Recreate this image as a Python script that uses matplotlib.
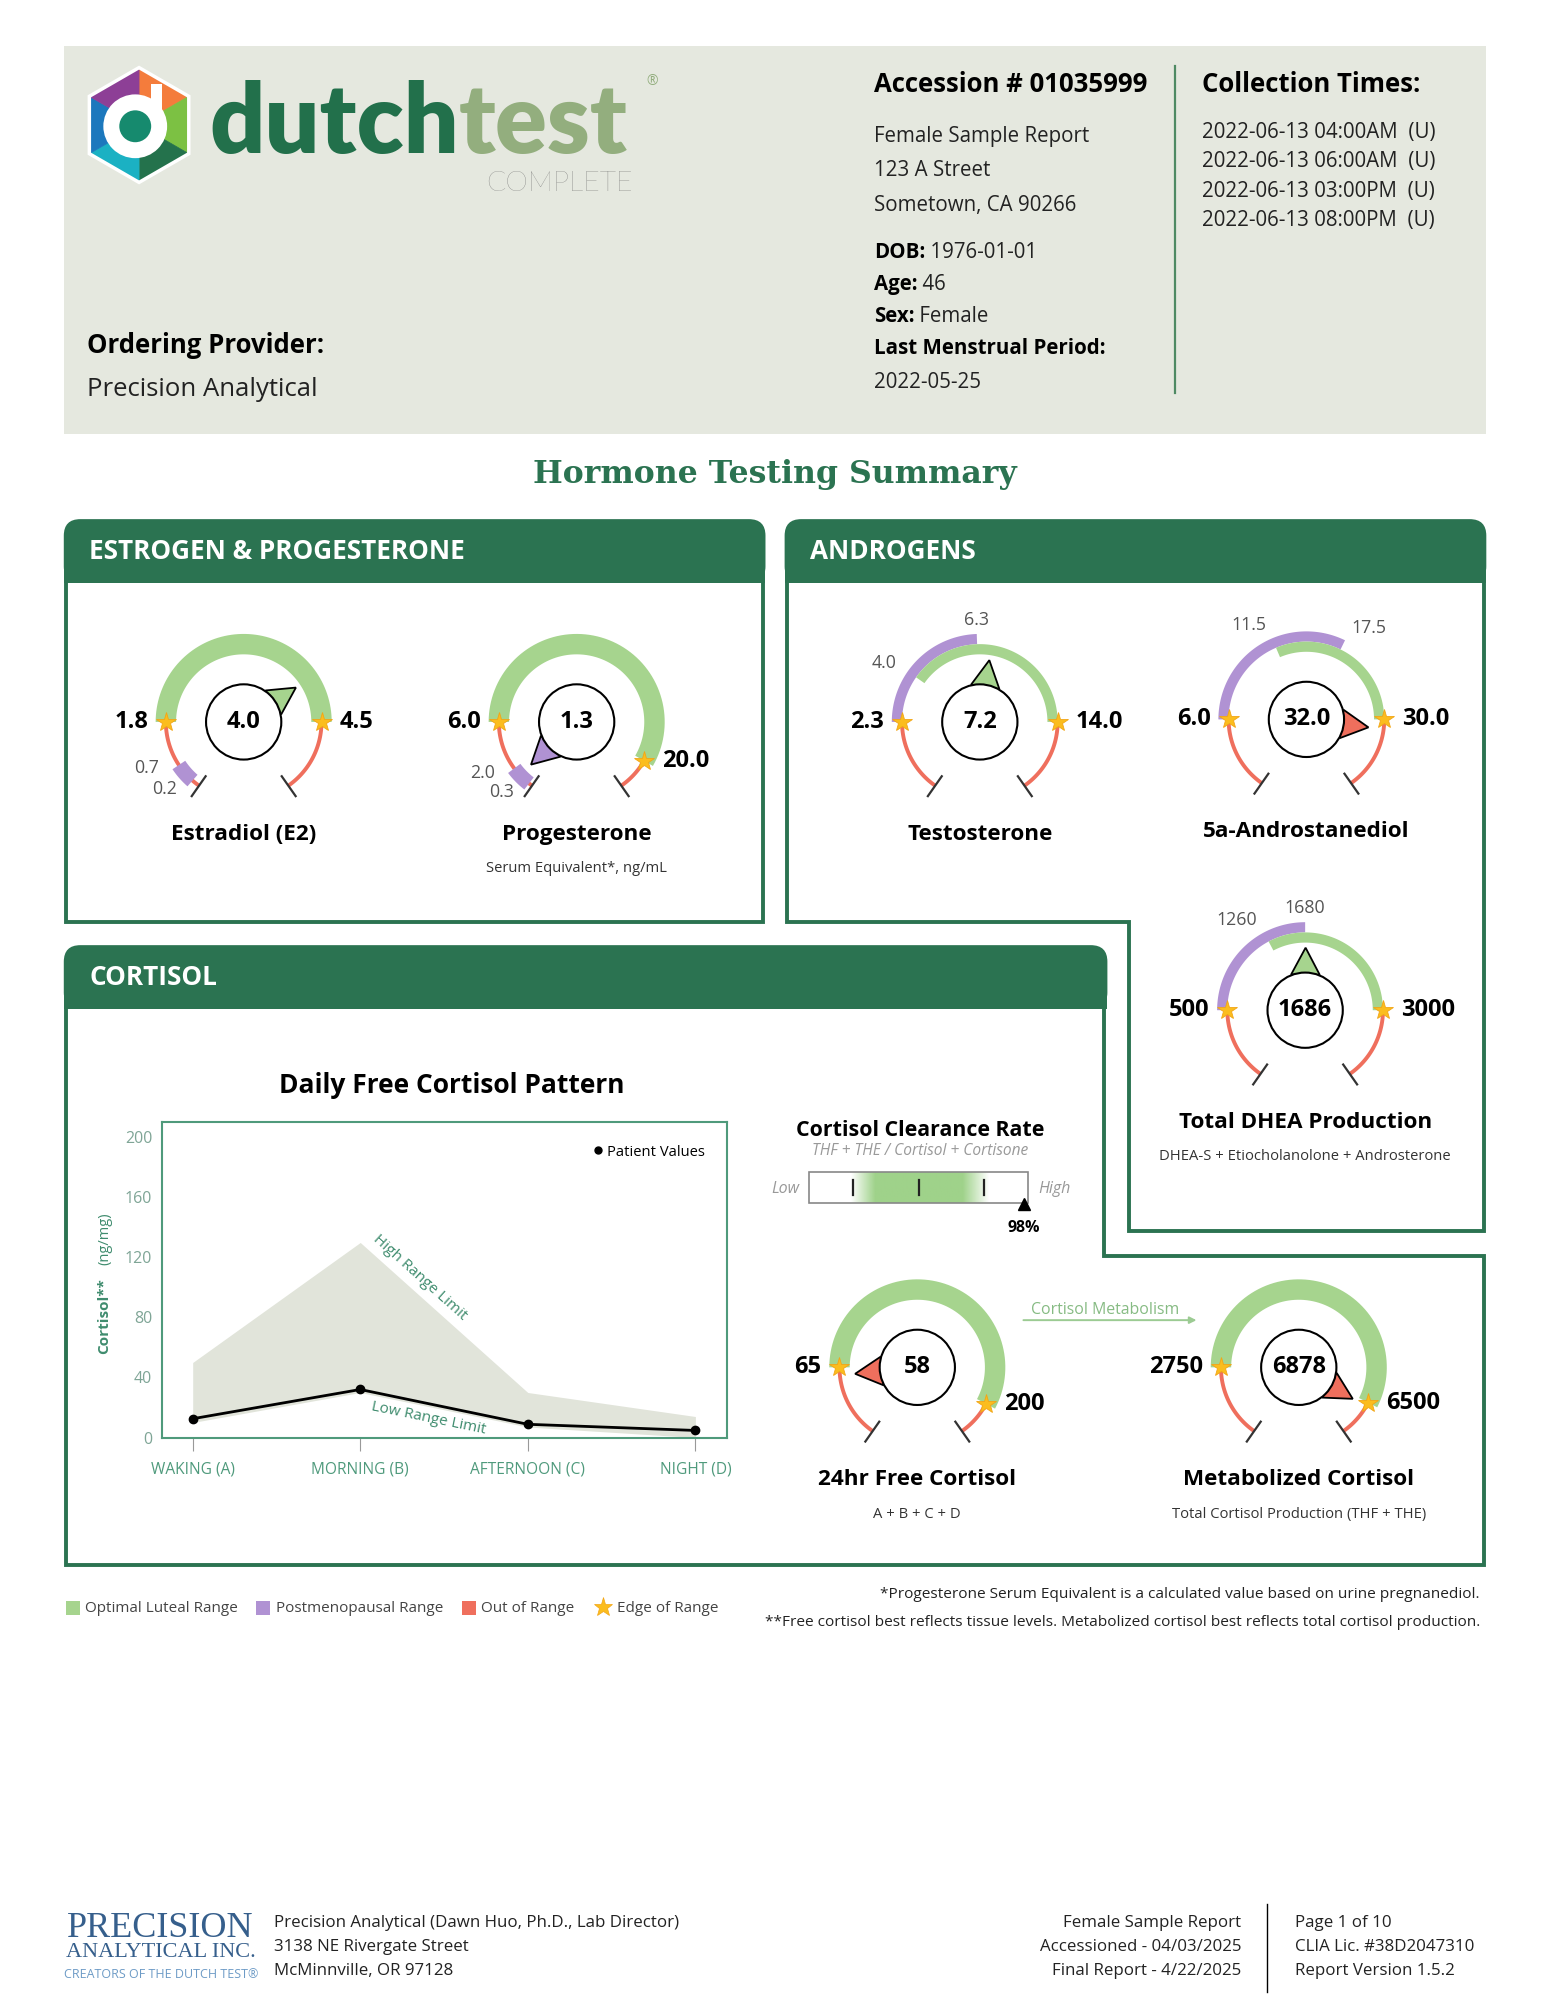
import numpy as np
import matplotlib
matplotlib.use("Agg")
import matplotlib.pyplot as plt
from matplotlib.patches import Polygon, Circle, Rectangle, FancyBboxPatch
from matplotlib.lines import Line2D

plt.rcParams['font.family'] = ['Open Sans', 'DejaVu Sans']

# ---------------- data ----------------
ACCESSION = "01035999"
ADDRESS_LINES = ["Female Sample Report", "123 A Street", "Sometown, CA 90266"]
PATIENT_FIELDS = [("DOB:", "1976-01-01"), ("Age:", "46"), ("Sex:", "Female")]
LMP_DATE = "2022-05-25"
COLLECTION_TIMES = ["2022-06-13 04:00AM  (U)", "2022-06-13 06:00AM  (U)",
                    "2022-06-13 03:00PM  (U)", "2022-06-13 08:00PM  (U)"]
PROVIDER = "Precision Analytical"

GAUGE_NAMES = ["Estradiol (E2)", "Progesterone", "Testosterone", "5a-Androstanediol",
               "Total DHEA Production", "24hr Free Cortisol", "Metabolized Cortisol"]
GAUGE_SUBS = ["", "Serum Equivalent*, ng/mL", "", "",
              "DHEA-S + Etiocholanolone + Androsterone", "A + B + C + D",
              "Total Cortisol Production (THF + THE)"]
GAUGE_RESULTS = [4.0, 1.3, 7.2, 32.0, 1686, 58, 6878]
LUTEAL_LOW = [1.8, 6.0, 4.0, 11.5, 1260, 65, 2750]
LUTEAL_HIGH = [4.5, 20.0, 14.0, 30.0, 3000, 200, 6500]
POSTMENO_LOW = [0.2, 0.3, 2.3, 6.0, 500, None, None]
POSTMENO_HIGH = [0.7, 2.0, 6.3, 17.5, 1680, None, None]
GAUGE_DECIMALS = [1, 1, 1, 1, 0, 0, 0]

CORTISOL_TIMES = ["WAKING (A)", "MORNING (B)", "AFTERNOON (C)", "NIGHT (D)"]
CORTISOL_LOW = [10, 30, 7, 0]
CORTISOL_HIGH = [50, 130, 30, 14]
CORTISOL_PATIENT = [12.5, 32.0, 8.8, 4.7]
CORTISOL_YTICKS = [0, 40, 80, 120, 160, 200]

CLEARANCE_PCT = 98
CLEARANCE_TICKS = [20, 50, 80]

LEGEND_LABELS = ["Optimal Luteal Range", "Postmenopausal Range", "Out of Range", "Edge of Range"]

# ---------------- style ----------------
GREEN_DARK = '#2b7351'
BAND_GREEN = '#a6d48e'
BAND_PURPLE = '#b092d3'
RED = '#ef6f5d'
STAR = '#fbbd1e'
HEADER_BG = '#e5e8df'
TEAL = '#3f8c6e'

# gauge centre (page px of the 1211 wide layout) and angle stops of the main range
GAUGE_CENTERS = [(191, 566), (452, 566), (768, 566), (1024, 564), (1023, 792), (719, 1072), (1018, 1072)]
GAUGE_STOPS = [[180, 0], [180, -30], [180, 145, 92, 0], [180, 113, 64, 0],
               [180, 118, 90, 0], [180, -28], [180, -27]]
R_IN, R_OUT, R_MID = 53, 69, 61
R_CIRC = 29.5

W, H = 1211, 1568
fig = plt.figure(figsize=(15.45, 20), dpi=100)
ax = fig.add_axes([0, 0, 1, 1])
ax.set_xlim(0, W)
ax.set_ylim(H, 0)
ax.axis('off')


def pt(cx, cy, r, a):
    a = np.radians(a)
    return cx + r * np.cos(a), cy - r * np.sin(a)


def band(cx, cy, r0, r1, a0, a1, color, z=3):
    t = np.linspace(a0, a1, 80)
    xo, yo = pt(cx, cy, r1, t)
    xi, yi = pt(cx, cy, r0, t[::-1])
    ax.add_patch(Polygon(np.column_stack([np.r_[xo, xi], np.r_[yo, yi]]),
                         closed=True, fc=color, ec='none', zorder=z))


def arc(cx, cy, r, a0, a1, color, lw, z=2):
    t = np.linspace(a0, a1, 80)
    x, y = pt(cx, cy, r, t)
    ax.plot(x, y, color=color, lw=lw, solid_capstyle='butt', zorder=z)


def fmt(v, d):
    return f"{v:.{d}f}"


# ---------------- header block ----------------
ax.add_patch(Rectangle((50, 36), 1115, 304, fc=HEADER_BG, ec='none', zorder=0))

# logo hexagon
hx, hy, hr = 109, 98, 45
hex_cols = ['#f47c3c', '#7cc143', '#24724c', '#1bb1c3', '#1c78bd', '#8d3f96']
for i, c in enumerate(hex_cols):
    a0, a1 = 90 - 60 * i, 30 - 60 * i
    p0, p1 = pt(hx, hy, hr, a0), pt(hx, hy, hr, a1)
    ax.add_patch(Polygon([(hx, hy), p0, p1], closed=True, fc=c, ec=c, lw=0.5, zorder=2))
hv = [pt(hx, hy, hr, 90 - 60 * i) for i in range(6)]
ax.add_patch(Polygon(hv, closed=True, fc='none', ec='white', lw=2.5, zorder=3))
ax.add_patch(Circle((106, 99), 25, fc='white', ec='none', zorder=3))
ax.add_patch(Circle((106, 99), 12.5, fc='#168a6e', ec='none', zorder=4))
ax.add_patch(Rectangle((118, 66), 9, 34, fc='white', ec='none', zorder=3))

dutch = ax.text(164, 120, "dutch", fontsize=69.5, fontweight='heavy', family='Lato',
                color='#22704b', va='baseline', ha='left', zorder=3)
ax.annotate("test", xy=(1, 0), xycoords=dutch, xytext=(0, 0), textcoords='offset points',
            fontsize=69.5, fontweight='heavy', family='Lato', color='#93ae7e',
            va='bottom', ha='left', zorder=3)
ax.text(496, 150, "COMPLETE", fontsize=20.5, fontweight='light', family='Lato',
        color='#6f6f6f', ha='right', va='baseline')
ax.text(511, 64, "®", fontsize=10, color='#93ae7e', ha='center', va='center')

ax.text(68, 271, "Ordering Provider:", fontsize=18.5, fontweight='bold', va='center')
ax.text(68, 305, PROVIDER, fontsize=18.5, va='center', color='#222222')

ax.text(685, 66, f"Accession # {ACCESSION}", fontsize=18.5, fontweight='bold', va='center')
for i, line in enumerate(ADDRESS_LINES):
    ax.text(685, 107 + 27 * i, line, fontsize=14.8, va='center', color='#222222')
for i, (lab, val) in enumerate(PATIENT_FIELDS):
    t = ax.text(685, 198 + 25 * i, lab, fontsize=14.8, fontweight='bold', va='center')
    ax.annotate(" " + val, xy=(1, 0.5), xycoords=t, va='center', ha='left',
                fontsize=14.8, color='#222222')
ax.text(685, 273, "Last Menstrual Period:", fontsize=14.8, fontweight='bold', va='center')
ax.text(685, 300, LMP_DATE, fontsize=14.8, va='center', color='#222222')

ax.plot([921, 921], [52, 308], color='#4e8a63', lw=1.6)
ax.text(942, 66, "Collection Times:", fontsize=18.5, fontweight='bold', va='center')
for i, line in enumerate(COLLECTION_TIMES):
    ax.text(942, 104 + 23 * i, line, fontsize=14.8, va='center', color='#222222')

ax.text(607, 372, "Hormone Testing Summary", fontsize=22.7, fontweight='bold',
        family='DejaVu Serif', color=GREEN_DARK, ha='center', va='center')


# ---------------- panels ----------------
def header(x0, y0, w, h, title):
    ax.add_patch(FancyBboxPatch((x0, y0), w, h, boxstyle="round,pad=0,rounding_size=13",
                                fc=GREEN_DARK, ec='none', zorder=1))
    ax.add_patch(Rectangle((x0, y0 + h / 2), w, h / 2, fc=GREEN_DARK, ec='none', zorder=1))
    ax.text(x0 + 20, y0 + h / 2, title, color='white', fontsize=18.8,
            fontweight='bold', va='center', ha='left', zorder=2)


header(50, 407, 550, 50, "ESTROGEN & PROGESTERONE")
header(615, 407, 550, 50, "ANDROGENS")
header(50, 741, 818, 50, "CORTISOL")

border_kw = dict(color=GREEN_DARK, lw=2.8, solid_joinstyle='miter', zorder=1)
ax.plot([52, 52, 598, 598], [457, 723, 723, 457], **border_kw)
ax.plot([617, 617, 885, 885, 1163, 1163], [457, 723, 723, 965, 965, 457], **border_kw)
ax.plot([52, 52, 1163, 1163, 865, 865], [791, 1227, 1227, 985, 985, 791], **border_kw)


# ---------------- gauges ----------------
def draw_gauge(i):
    cx, cy = GAUGE_CENTERS[i]
    ll, lh = LUTEAL_LOW[i], LUTEAL_HIGH[i]
    pl, ph = POSTMENO_LOW[i], POSTMENO_HIGH[i]
    dec = GAUGE_DECIMALS[i]
    overlap = pl is not None and ph >= ll
    if overlap:
        bounds = sorted({ll, lh, pl, ph})
    else:
        bounds = [ll, lh]
    stops = GAUGE_STOPS[i]
    xs = [0.0] + bounds + [bounds[-1] * 1.5]
    ys = [235] + stops + [-55]

    def f(v):
        return float(np.interp(v, xs, ys))

    lo_a, hi_a = stops[0], stops[-1]
    arc(cx, cy, R_MID, 235, lo_a, RED, 2.8)
    arc(cx, cy, R_MID, hi_a, -55, RED, 2.8)
    for a in (235, -55):
        x0, y0 = pt(cx, cy, R_MID - 9, a)
        x1, y1 = pt(cx, cy, R_MID + 10, a)
        ax.plot([x0, x1], [y0, y1], color='#333333', lw=1.6, zorder=4)

    if overlap:
        band(cx, cy, R_MID, R_OUT, f(pl), f(ph), BAND_PURPLE)
        band(cx, cy, R_IN, R_MID, f(ll), f(lh), BAND_GREEN)
        main = [bounds[0], bounds[-1]]
        minor = bounds[1:-1]
    else:
        band(cx, cy, R_IN, R_OUT, f(ll), f(lh), BAND_GREEN)
        if pl is not None:
            band(cx, cy, R_IN + 2, R_OUT - 2, f(pl), f(ph), BAND_PURPLE)
        main = [ll, lh]
        minor = [v for v in (ph, pl) if v is not None]

    for k, v in enumerate(main):
        sx, sy = pt(cx, cy, R_MID, f(v))
        ax.plot(sx, sy, marker='*', ms=15, color=STAR, mec='#f2a516', mew=0.6, zorder=6)
        if k == 0:
            ax.text(sx - 14, sy, fmt(v, dec), fontsize=17, fontweight='bold',
                    ha='right', va='center', zorder=6)
        else:
            ax.text(sx + 14, sy, fmt(v, dec), fontsize=17, fontweight='bold',
                    ha='left', va='center', zorder=6)
    for v in minor:
        a = f(v)
        tx, ty = pt(cx, cy, R_OUT + 11, a)
        if np.sin(np.radians(a)) < 0:
            ty -= 8
        c = np.cos(np.radians(a))
        ha = 'center' if abs(c) < 0.15 else ('right' if c < 0 else 'left')
        ax.text(tx, ty, fmt(v, dec), fontsize=12.8, color='#555555',
                ha=ha, va='center', zorder=6)

    res = GAUGE_RESULTS[i]
    if ll <= res <= lh:
        pc = BAND_GREEN
    elif pl is not None and pl <= res <= ph:
        pc = BAND_PURPLE
    else:
        pc = RED
    a = f(res)
    tip = pt(cx, cy, 49, a)
    b1 = pt(cx, cy, 30, a + 22)
    b2 = pt(cx, cy, 30, a - 22)
    ax.add_patch(Polygon([tip, b1, b2], closed=True, fc=pc, ec='black', lw=1.3, zorder=7))
    ax.add_patch(Circle((cx, cy), R_CIRC, fc='white', ec='black', lw=1.5, zorder=8))
    ax.text(cx, cy, fmt(res, dec), fontsize=17, fontweight='bold',
            ha='center', va='center', zorder=9)
    ax.text(cx, cy + 88, GAUGE_NAMES[i], fontsize=16.2, fontweight='bold',
            ha='center', va='center')
    if GAUGE_SUBS[i]:
        ax.text(cx, cy + 115, GAUGE_SUBS[i], fontsize=10.6, color='#333333',
                ha='center', va='center')


for i in range(len(GAUGE_NAMES)):
    draw_gauge(i)

# cortisol metabolism arrow
ax.annotate("", xy=(940, 1035), xytext=(800, 1035),
            arrowprops=dict(arrowstyle='-|>', color='#9ccb93', lw=1.4, mutation_scale=10))
ax.text(866, 1027, "Cortisol Metabolism", fontsize=11.4, color='#86bb83',
        ha='center', va='center')

# ---------------- cortisol clearance ----------------
ax.text(721, 886, "Cortisol Clearance Rate", fontsize=15.4, fontweight='bold',
        ha='center', va='center')
ax.text(721, 902, "THF + THE / Cortisol + Cortisone", fontsize=11.2, style='italic',
        color='#999999', ha='center', va='center')
bx0, bx1, by0, by1 = 634, 806, 919, 943
pct = np.linspace(0, 100, 300)
alpha = np.interp(pct, [0, 19, 30, 70, 82, 100], [0, 0, 1, 1, 0, 0])
grad = np.zeros((1, pct.size, 4))
grad[..., :3] = matplotlib.colors.to_rgb('#9fd28a')
grad[..., 3] = alpha
ax.imshow(grad, extent=(bx0, bx1, by1, by0), aspect='auto', zorder=2, interpolation='bilinear')
ax.add_patch(Rectangle((bx0, by0), bx1 - bx0, by1 - by0, fc='none', ec='#888888', lw=1.2, zorder=3))
for p in CLEARANCE_TICKS:
    xx = bx0 + (bx1 - bx0) * p / 100
    ax.plot([xx, xx], [by0 + 6, by1 - 6], color='#222222', lw=1.6, zorder=4)
ax.text(bx0 - 7, 932, "Low", fontsize=11.5, style='italic', color='#999999', ha='right', va='center')
ax.text(bx1 + 8, 932, "High", fontsize=11.5, style='italic', color='#999999', ha='left', va='center')
mx = bx0 + (bx1 - bx0) * CLEARANCE_PCT / 100
ax.plot(mx, by1 + 1, marker='^', ms=9, color='black', zorder=5)
ax.text(mx, 963, f"{CLEARANCE_PCT}%", fontsize=11.5, fontweight='bold', ha='center', va='center')

# ---------------- daily free cortisol chart ----------------
ax.text(354, 851, "Daily Free Cortisol Pattern", fontsize=19, fontweight='bold',
        ha='center', va='center')
cax = fig.add_axes([127 / W, 1 - 1127 / H, (570 - 127) / W, (1127 - 880) / H])
xs_c = np.arange(len(CORTISOL_TIMES))
cax.fill_between(xs_c, CORTISOL_LOW, CORTISOL_HIGH, color='#e1e4da', lw=0)
cax.plot(xs_c, CORTISOL_PATIENT, color='black', lw=2, marker='o', ms=6, zorder=3)
cax.set_xlim(-0.183, 3.19)
cax.set_ylim(0, 210)
cax.set_yticks(CORTISOL_YTICKS)
cax.set_xticks(xs_c, CORTISOL_TIMES)
cax.tick_params(axis='y', length=0, labelcolor='#7fa596', labelsize=11.5, pad=7)
cax.tick_params(axis='x', length=9, color='#999999', labelcolor='#4f9a7c', labelsize=11.2, pad=8)
for s in cax.spines.values():
    s.set_color('#4f9a7b')
    s.set_linewidth(1.5)
cax.legend(handles=[Line2D([], [], marker='o', color='black', ls='', ms=5)],
           labels=['Patient Values'], loc='upper right', frameon=False, fontsize=10.6,
           handletextpad=0.1, borderaxespad=1.1, handlelength=1.0)
fig.canvas.draw()


def seg_angle(x0, y0, x1, y1):
    p0 = cax.transData.transform((x0, y0))
    p1 = cax.transData.transform((x1, y1))
    return np.degrees(np.arctan2(p1[1] - p0[1], p1[0] - p0[0]))


ang_hi = seg_angle(1, CORTISOL_HIGH[1], 2, CORTISOL_HIGH[2])
t = 0.3
cax.annotate("High Range Limit", xy=(1 + t, CORTISOL_HIGH[1] + t * (CORTISOL_HIGH[2] - CORTISOL_HIGH[1])),
             xytext=(3, 3), textcoords='offset points', rotation=ang_hi, rotation_mode='anchor',
             ha='center', va='bottom', fontsize=11, color=TEAL)
ang_lo = seg_angle(1, CORTISOL_LOW[1], 2, CORTISOL_LOW[2])
t = 0.42
cax.annotate("Low Range Limit", xy=(1 + t, CORTISOL_LOW[1] + t * (CORTISOL_LOW[2] - CORTISOL_LOW[1])),
             xytext=(0, -3), textcoords='offset points', rotation=ang_lo, rotation_mode='anchor',
             ha='center', va='top', fontsize=11, color=TEAL)

ax.text(82, 1032, "Cortisol**", rotation=90, fontsize=11, fontweight='bold',
        color=TEAL, ha='center', va='center')
ax.text(82, 971, "(ng/mg)", rotation=90, fontsize=10.5, color=TEAL, ha='center', va='center')

# ---------------- legend + notes ----------------
leg_cols = [BAND_GREEN, BAND_PURPLE, RED]
leg_x = [52, 201, 362]
for c, x0, lab in zip(leg_cols, leg_x, LEGEND_LABELS[:3]):
    ax.add_patch(Rectangle((x0, 1255), 11, 11, fc=c, ec='none'))
    ax.text(x0 + 15, 1261, lab, fontsize=11, color='#444444', ha='left', va='center')
ax.plot(473, 1260, marker='*', ms=14, color=STAR, mec='#f2a516', mew=0.5)
ax.text(484, 1261, LEGEND_LABELS[3], fontsize=11, color='#444444', ha='left', va='center')
ax.text(1160, 1250, "*Progesterone Serum Equivalent is a calculated value based on urine pregnanediol.",
        fontsize=11.1, color='#222222', ha='right', va='center')
ax.text(1160, 1272, "**Free cortisol best reflects tissue levels. Metabolized cortisol best reflects total cortisol production.",
        fontsize=11.1, color='#222222', ha='right', va='center')

# ---------------- footer ----------------
ax.text(126, 1512, "PRECISION", fontsize=26, family='Liberation Serif', color='#365f8c',
        ha='center', va='center')
ax.text(126, 1531, "ANALYTICAL INC.", fontsize=16, family='Liberation Serif', color='#365f8c',
        ha='center', va='center')
ax.text(126, 1548, "CREATORS OF THE DUTCH TEST®", fontsize=9, color='#6d9bc6',
        ha='center', va='center')
for i, line in enumerate(["Precision Analytical (Dawn Huo, Ph.D., Lab Director)",
                          "3138 NE Rivergate Street", "McMinnville, OR 97128"]):
    ax.text(215, 1508 + 18.5 * i, line, fontsize=12.2, color='#222222', ha='left', va='center')
for i, line in enumerate(["Female Sample Report", "Accessioned - 04/03/2025", "Final Report - 4/22/2025"]):
    ax.text(973, 1508 + 18.5 * i, line, fontsize=12.2, color='#222222', ha='right', va='center')
ax.plot([993, 993], [1493, 1562], color='black', lw=1)
for i, line in enumerate(["Page 1 of 10", "CLIA Lic. #38D2047310", "Report Version 1.5.2"]):
    ax.text(1015, 1508 + 18.5 * i, line, fontsize=12.2, color='#222222', ha='left', va='center')

fig.savefig("out.png", dpi=100)
